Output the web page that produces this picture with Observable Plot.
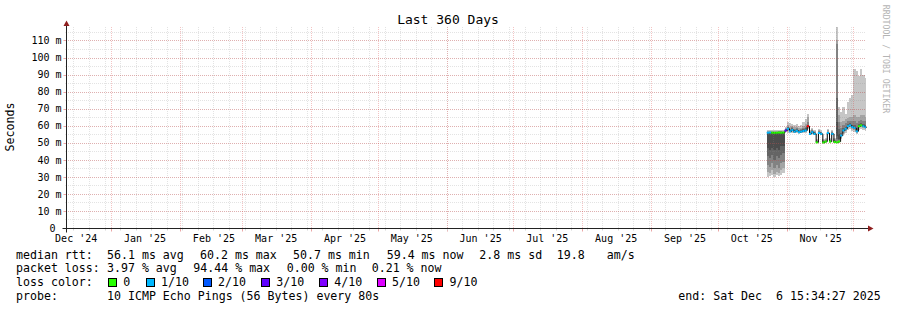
<!DOCTYPE html>
<html><head><meta charset="utf-8">
<script src="https://cdn.jsdelivr.net/npm/d3@7"></script>
<script src="https://cdn.jsdelivr.net/npm/@observablehq/plot@0.6"></script>
<style>
html,body{margin:0;padding:0;background:#fff;}
#wrap{position:relative;width:897px;height:310px;overflow:hidden;font-family:"DejaVu Sans Mono",monospace;color:#000;}
#chart{position:absolute;left:0;top:0;}
.t{position:absolute;white-space:pre;line-height:14px;font-size:11.6px;}
.c{position:absolute;white-space:pre;line-height:1;}
.sw{position:absolute;width:7px;height:7px;border:1px solid #000;}
</style></head><body><div id="wrap"><div id="chart"></div></div>
<script>
// ---- data ----
const stepDates = ["2025-10-23","2025-10-24","2025-10-25","2025-10-26","2025-10-27","2025-10-28","2025-10-29","2025-10-30","2025-10-31","2025-11-01","2025-11-02","2025-11-03","2025-11-04","2025-11-05","2025-11-06","2025-11-07","2025-11-08","2025-11-09","2025-11-10","2025-11-11","2025-11-12","2025-11-13","2025-11-14","2025-11-15","2025-11-16","2025-11-17","2025-11-18","2025-11-19","2025-11-20","2025-11-21","2025-11-22","2025-11-23","2025-11-24","2025-11-25","2025-11-26","2025-11-27","2025-11-28","2025-11-29","2025-11-30","2025-12-01","2025-12-02","2025-12-03","2025-12-04","2025-12-05","2025-12-06"];
const median = [56.2,56.3,56.2,56.1,56.2,56.3,56.2,56.3,57.5,58.5,57.0,57.8,56.8,57.3,56.5,56.8,57.2,57.5,60.0,55.5,56.5,55.5,50.5,56.0,55.5,50.5,51.0,56.0,51.0,55.5,50.8,50.5,51.0,54.5,57.5,58.5,60.0,60.5,59.5,59.0,57.0,60.0,60.5,60.0,59.4];
const loss = [1,1,0,0,0,0,0,0,3,1,1,1,1,1,1,1,1,1,9,1,1,1,0,1,1,0,0,1,0,1,0,0,0,1,1,1,1,1,1,1,1,0,0,1,1];
const pings = [
 [30,33,37,42,47,56.2,56.4,56.6,57.0,57.5],
 [30.5,32,36,41,46,56.2,56.4,56.6,56.9,57.3],
 [31,34,38,43,47,56.1,56.3,56.5,56.8,57.2],
 [30,31.5,35,40,46,56.2,56.4,56.6,57.0,57.4],
 [31,33,37,42,47,56.2,56.4,56.6,57.0,57.6],
 [30.5,32,35,41,46,56.3,56.5,56.7,57.1,57.5],
 [31,34,38,43,48,56.3,56.5,56.7,57.0,57.4],
 [32,35,39,44,48,56.2,56.4,56.6,56.9,57.3],
 [56.5,57.0,57.2,57.3,57.4,57.6,57.8,58.0,58.5,59.0],
 [56.0,57.0,57.5,58.0,58.3,58.7,59.0,59.5,60.5,62.0],
 [55.5,56.2,56.6,56.8,57.0,57.2,57.6,58.2,59.5,61.5],
 [56.0,56.8,57.2,57.5,57.7,58.0,58.4,59.0,60.0,61.0],
 [55.5,56.0,56.4,56.6,56.8,57.0,57.5,58.0,59.0,60.5],
 [55.8,56.5,56.9,57.1,57.3,57.5,57.9,58.5,59.5,61.0],
 [55.0,55.8,56.1,56.3,56.5,56.7,57.0,57.5,58.5,60.0],
 [55.5,56.0,56.4,56.6,56.8,57.0,57.3,57.8,58.8,60.5],
 [55.5,56.2,56.6,56.8,57.0,57.3,57.8,58.5,60.0,62.0],
 [56.0,56.5,57.0,57.3,57.5,57.8,58.5,59.5,61.0,64.0],
 [58.0,58.5,59.0,59.5,60.0,60.0,60.5,62.0,65.0,67.0],
 [54.5,54.8,55.1,55.3,55.4,55.6,55.8,56.2,56.8,57.5],
 [55.3,55.7,56.0,56.2,56.4,56.6,56.9,57.3,57.9,58.8],
 [54.4,54.8,55.1,55.3,55.4,55.6,55.8,56.2,56.8,57.6],
 [49.6,49.9,50.1,50.3,50.4,50.6,50.8,51.1,51.6,52.3],
 [54.9,55.3,55.6,55.8,55.9,56.1,56.3,56.7,57.3,58.0],
 [54.5,54.8,55.1,55.3,55.4,55.6,55.8,56.1,56.6,57.3],
 [49.5,49.9,50.1,50.3,50.4,50.6,50.8,51.0,51.5,52.2],
 [50.0,50.4,50.6,50.8,50.9,51.1,51.3,51.6,52.1,52.8],
 [54.9,55.3,55.6,55.8,55.9,56.1,56.3,56.6,57.2,58.0],
 [50.0,50.3,50.6,50.8,50.9,51.1,51.3,51.6,52.1,52.9],
 [54.4,54.8,55.1,55.3,55.4,55.6,55.8,56.2,56.8,57.6],
 [49.8,50.1,50.4,50.6,50.7,50.9,51.1,51.4,52.0,53.0],
 [50.0,50.5,51.0,52.0,54.0,62.0,76.0,108.0,110.0,117.9],
 [50.0,50.5,51.0,51.5,52.0,55.0,58.0,62.0,66.0,71.0],
 [52.0,53.0,53.8,54.2,54.4,54.7,56.0,58.5,62.0,68.0],
 [55.0,56.0,56.8,57.2,57.4,57.7,58.5,60.5,63.0,71.0],
 [56.0,57.0,57.8,58.2,58.4,58.7,59.5,61.5,64.0,67.0],
 [57.5,58.5,59.3,59.7,59.9,60.2,61.0,62.5,64.5,74.0],
 [58.0,59.0,59.8,60.2,60.4,60.7,61.5,63.0,65.0,76.5],
 [57.0,58.0,58.8,59.2,59.4,59.7,60.5,62.5,65.0,78.0],
 [56.5,57.5,58.3,58.7,58.9,59.2,60.2,62.5,66.0,93.5],
 [55.0,56.0,56.5,56.8,56.9,57.2,58.5,61.5,65.0,92.0],
 [57.5,58.5,59.3,59.7,59.9,60.2,61.0,63.0,65.0,89.0],
 [58.0,59.0,59.8,60.2,60.4,60.7,61.5,63.5,66.0,93.0],
 [57.5,58.5,59.3,59.7,59.9,60.2,61.0,63.0,66.0,90.0],
 [57.0,58.0,58.8,59.2,59.3,59.6,60.5,62.5,65.0,88.0]
];
const lossLevels = [0,1,2,3,4,5,9];
const lossLabels = ["0","1/10","2/10","3/10","4/10","5/10","9/10"];
const lossColors = ["#26ff00","#00b8ff","#0059ff","#5e00ff","#7e00ff","#dd00ff","#ff0000"];
const smokeGrays = ["#c6c6c6","#a4a4a4","#828282","#646464","#4c4c4c"];
const yTicks = [0,10,20,30,40,50,60,70,80,90,100,110];
const title = "Last 360 Days";
const yLabel = "Seconds";
const watermark = "RRDTOOL / TOBI OETIKER";
const statLines = [
  [["median rtt:",16],["56.1 ms avg",107],["60.2 ms max",200],["50.7 ms min",293],["59.4 ms now",386.7],["2.8 ms sd",479.3],["19.8",556.7],["am/s",606.7]],
  [["packet loss:",16],["3.97 % avg",107],["94.44 % max",193.3],["0.00 % min",286.7],["0.21 % now",371.7]],
  [["loss color:",16]],
  [["probe:",16],["10 ICMP Echo Pings (56 Bytes) every 80s",107],["end: Sat Dec  6 15:34:27 2025",678.3]]
];
const lineCenters = [255,268.5,282.5,296.5];
const swatchX = [108,145.7,202.7,261,319,376.7,434.3];

// ---- build ----
const start = new Date(Date.UTC(2024,11,11,15,34,27));
const end = new Date(Date.UTC(2025,11,6,15,34,27));
const parse = d3.utcParse("%Y-%m-%d");
const lossColorOf = l => lossColors[lossLevels.indexOf(l)];
const steps = stepDates.map((s,i) => {
  const d = parse(s);
  const d2 = new Date(Math.min(+d3.utcDay.offset(d,1), +end));
  return {date:d, dateEnd:d2, median:median[i], loss:loss[i], p:pings[i]};
});
const smoke = [];
steps.forEach(s => { for (let b=0;b<5;b++) smoke.push({x1:s.date,x2:s.dateEnd,y1:s.p[b],y2:s.p[9-b],fill:smokeGrays[b]}); });
const lineData = steps.map(s=>({date:s.date, median:s.median})).concat([{date:end, median:steps[steps.length-1].median}]);
const minorY = d3.range(5,118,5);
const majorY = d3.range(10,111,10);
const weeks = d3.utcSunday.range(start,end);
const months = d3.utcMonth.range(start,end);
const labelDates = d3.utcMonth.range(d3.utcMonth.floor(start),end).map(m=>d3.utcDay.offset(m,15)).filter(d=>d>=start&&d<=end);
const fmt = d3.utcFormat("%b '%y");
const MAJ = "#d42a2a", MIN = "#8c8c8c";

const chart = Plot.plot({
  width:897, height:246,
  marginTop:27, marginBottom:18, marginLeft:66, marginRight:31,
  style:{fontFamily:"'DejaVu Sans Mono', monospace", fontSize:"10px", color:"#000", background:"transparent", overflow:"visible"},
  x:{type:"utc", domain:[start,end]},
  y:{domain:[0,117.9]},
  color:{type:"identity"},
  marks:[
    Plot.rect(smoke,{x1:"x1",x2:"x2",y1:"y1",y2:"y2",fill:"fill",shapeRendering:"crispEdges"}),
    Plot.ruleY(minorY,{stroke:MIN,strokeOpacity:0.24,strokeDasharray:"1,1",shapeRendering:"crispEdges"}),
    Plot.ruleX(weeks,{stroke:MIN,strokeOpacity:0.24,strokeDasharray:"1,1",shapeRendering:"crispEdges"}),
    Plot.ruleY(majorY,{stroke:MAJ,strokeOpacity:0.28,strokeDasharray:"1,1",shapeRendering:"crispEdges"}),
    Plot.ruleX(months,{stroke:MAJ,strokeOpacity:0.28,strokeDasharray:"1,1",shapeRendering:"crispEdges"}),
    Plot.line(lineData,{x:"date",y:"median",curve:"step-after",stroke:"#000",strokeWidth:1}),
    Plot.ruleY(steps,{x1:"date",x2:"dateEnd",y:"median",stroke:d=>lossColorOf(d.loss),strokeWidth:2}),
    Plot.axisY({ticks:yTicks,tickSize:0,tickPadding:5,label:null,tickFormat:v=>v===0?"0\u00a0":v+" m"}),
    Plot.axisX({ticks:labelDates,tickSize:0,tickPadding:6,label:null,tickFormat:d=>fmt(d)})
  ]
});
document.getElementById("chart").appendChild(chart);

// axis lines, ticks, arrows (through the plot's scales)
const X = chart.scale("x"), Y = chart.scale("y");
const x0 = X.range[0], x1 = X.range[1], y0 = Y.range[0], yT = Y.range[1];
const g = d3.select(chart).append("g").attr("transform","translate(0.5,0.5)");
months.forEach(m=>{const xx=Math.round(X.apply(m)); g.append("line").attr("x1",xx).attr("x2",xx).attr("y1",y0).attr("y2",y0+3).attr("stroke","#eba6a6");});
weeks.forEach(w=>{const xx=Math.round(X.apply(w)); g.append("line").attr("x1",xx).attr("x2",xx).attr("y1",y0).attr("y2",y0+2).attr("stroke","#d4d4d4");});
majorY.forEach(v=>{const yy=Math.round(Y.apply(v)); g.append("line").attr("x1",x0-3).attr("x2",x0).attr("y1",yy).attr("y2",yy).attr("stroke","#eba6a6");});
minorY.forEach(v=>{if(v%10){const yy=Math.round(Y.apply(v)); g.append("line").attr("x1",x0-1).attr("x2",x0).attr("y1",yy).attr("y2",yy).attr("stroke","#d4d4d4");}});
g.append("line").attr("x1",x0-4).attr("x2",x1+3).attr("y1",y0).attr("y2",y0).attr("stroke","#222");
g.append("line").attr("x1",x0).attr("x2",x0).attr("y1",y0+4).attr("y2",yT-3).attr("stroke","#222");
d3.select(chart).append("path").attr("d",`M${x1+2},${y0-2.5}L${x1+7.5},${y0+0.5}L${x1+2},${y0+3.5}Z`).attr("fill","#8f1f1f");
d3.select(chart).append("path").attr("d",`M${x0-2.5},${yT-1}L${x0+0.5},${yT-6.5}L${x0+3.5},${yT-1}Z`).attr("fill","#8f1f1f");

// text overlays
const wrap = document.getElementById("wrap");
function centered(txt, cx, cy, size, rot, color){
  const d = document.createElement("div"); d.className="c"; d.textContent=txt;
  d.style.left=cx+"px"; d.style.top=cy+"px"; d.style.fontSize=size+"px";
  d.style.transform=`translate(-50%,-50%) rotate(${rot}deg)`;
  if(color) d.style.color=color; wrap.appendChild(d);
}
centered(title, 448, 19, 13, 0);
centered(yLabel, 11, 127, 11.6, -90);
centered(watermark, 886, 59, 8.2, 90, "#b4b4b4");
statLines.forEach((items,li)=>items.forEach(([txt,x])=>{
  const d=document.createElement("div"); d.className="t"; d.textContent=txt;
  d.style.left=x+"px"; d.style.top=(lineCenters[li]-7.3)+"px"; wrap.appendChild(d);
}));
lossLabels.forEach((lab,i)=>{
  const s=document.createElement("div"); s.className="sw"; s.style.background=lossColors[i];
  s.style.left=swatchX[i]+"px"; s.style.top=(lineCenters[2]-4.5)+"px"; wrap.appendChild(s);
  const t=document.createElement("div"); t.className="t"; t.textContent=lab;
  t.style.left=(swatchX[i]+15.3)+"px"; t.style.top=(lineCenters[2]-7.3)+"px"; wrap.appendChild(t);
});
</script></body></html>
